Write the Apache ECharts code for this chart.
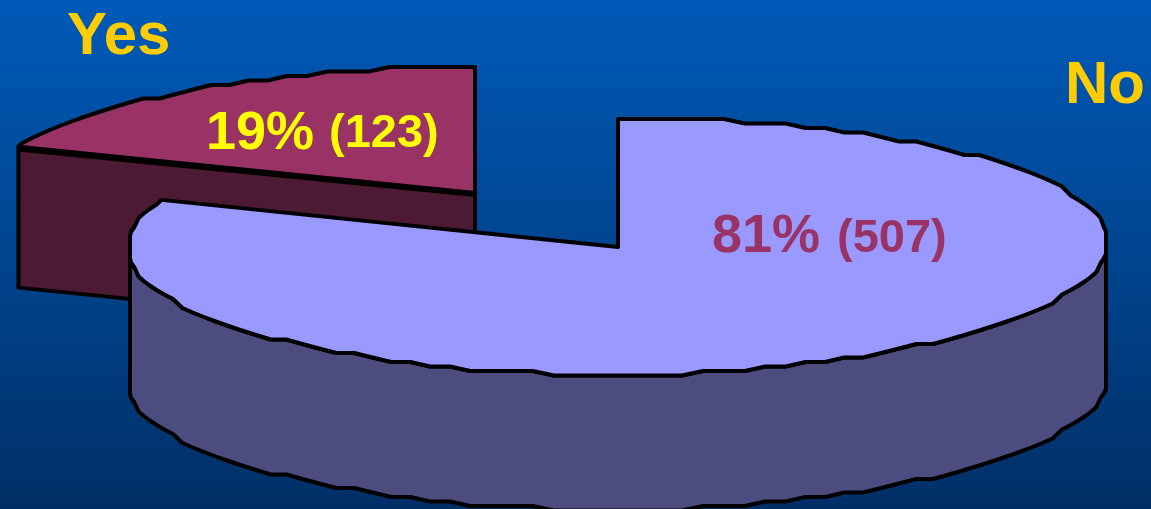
<!DOCTYPE html>
<html>
<head>
<meta charset="utf-8">
<style>html,body{margin:0;padding:0;background:#003066}#c{width:1151px;height:509px}</style>
<script src="https://cdn.jsdelivr.net/npm/echarts@6/dist/echarts.min.js"></script>
</head>
<body>
<div id="c"></div>
<script>
// Data
const categories = ['Yes', 'No'];
const percents = [19, 81];
const counts = [123, 507];

// Layout and styles, keyed by category
const shape = {
  Yes: { cx: 475, cy: 193, rxLeft: 491, rxRight: 491, ry: 126, clipX: 491, skew: 0, depth: 141, top: '#993366', side: '#4c1a33', startPct: 81 },
  No: { cx: 618, cy: 247, rxLeft: 491, rxRight: 490, ry: 128, clipX: 488, skew: 5, depth: 135, top: '#9999ff', side: '#4c4c7f', startPct: 0 }
};
const labelStyle = {
  Yes: {
    name: { x: 67, y: 55 },
    pct: { x: 206, y: 150, fill: '#ffff00' },
    cnt: { x: 329, y: 148, fill: '#ffff00' }
  },
  No: {
    name: { x: 1065, y: 104 },
    pct: { x: 712, y: 253, fill: '#993366' },
    cnt: { x: 837, y: 253, fill: '#993366' }
  }
};
const fontFamily = '"Liberation Sans", Arial, sans-serif';
const gridY = 4.5;
const stepDeg = 2.5;

function point(s, deg, dy, snap) {
  const t = deg * Math.PI / 180;
  const sin = Math.sin(t);
  const x = s.cx + (sin > 0 ? s.rxRight : s.rxLeft) * sin;
  let y = s.cy - s.ry * Math.cos(t) - s.skew * Math.max(0, sin);
  if (snap) {
    const top = s.cy - s.ry;
    y = top + Math.round((y - top) / gridY) * gridY;
  }
  return [Math.min(s.cx + s.clipX, Math.max(s.cx - s.clipX, x)), y + dy];
}
function arc(s, fromDeg, toDeg, dy) {
  const pts = [point(s, fromDeg, dy, false)];
  for (let k = Math.floor(fromDeg / stepDeg) + 1; k * stepDeg < toDeg; k++) {
    pts.push(point(s, k * stepDeg, dy, true));
  }
  pts.push(point(s, toDeg, dy, false));
  return pts;
}
function text(str, pos, size, fill) {
  return {
    type: 'text',
    style: {
      text: str, x: pos.x, y: pos.y + size * 0.212, fill: fill,
      font: 'bold ' + size + 'px ' + fontFamily,
      textAlign: 'left', textVerticalAlign: 'bottom'
    }
  };
}
function renderItem(params, api) {
  const i = params.dataIndex;
  const name = categories[i];
  const s = shape[name];
  const l = labelStyle[name];
  const from = s.startPct * 3.6;
  const to = from + percents[i] * 3.6;
  const line = { stroke: '#000', lineWidth: 4, lineJoin: 'round' };
  const kids = [];
  const topArc = arc(s, from, to, 0);
  const apex = [s.cx, s.cy];
  if (name === 'Yes') {
    const left = topArc[0];
    kids.push({
      type: 'polygon',
      shape: { points: [left, apex, [apex[0], apex[1] + s.depth], [left[0], left[1] + s.depth]] },
      style: Object.assign({ fill: s.side }, line)
    });
    kids.push({
      type: 'polyline',
      shape: { points: [[left[0], left[1] + 2], [apex[0], apex[1] + 1]] },
      style: { stroke: '#000', lineWidth: 6, fill: null }
    });
  } else {
    const front = arc(s, 90, 270, 0);
    const back = arc(s, 90, 270, s.depth).reverse();
    kids.push({
      type: 'polygon',
      shape: { points: front.concat(back) },
      style: Object.assign({ fill: s.side }, line)
    });
  }
  kids.push({
    type: 'polygon',
    shape: { points: [apex].concat(topArc) },
    style: Object.assign({ fill: s.top }, line)
  });
  kids.push(text(name, l.name, 60, '#ffcc00'));
  kids.push(text(percents[i] + '%', l.pct, 54, l.pct.fill));
  kids.push(text('(' + counts[i] + ')', l.cnt, 47, l.cnt.fill));
  return { type: 'group', children: kids };
}

const chart = echarts.init(document.getElementById('c'), null, { renderer: 'canvas' });
chart.setOption({
  animation: false,
  backgroundColor: {
    type: 'linear', x: 0, y: 0, x2: 0, y2: 1,
    colorStops: [{ offset: 0, color: '#005ab8' }, { offset: 1, color: '#002f66' }]
  },
  series: [{
    type: 'custom',
    coordinateSystem: 'none',
    renderItem: renderItem,
    clip: false,
    data: categories.map((c, i) => ({ name: c, value: [percents[i], counts[i]] }))
  }]
});
</script>
</body>
</html>
